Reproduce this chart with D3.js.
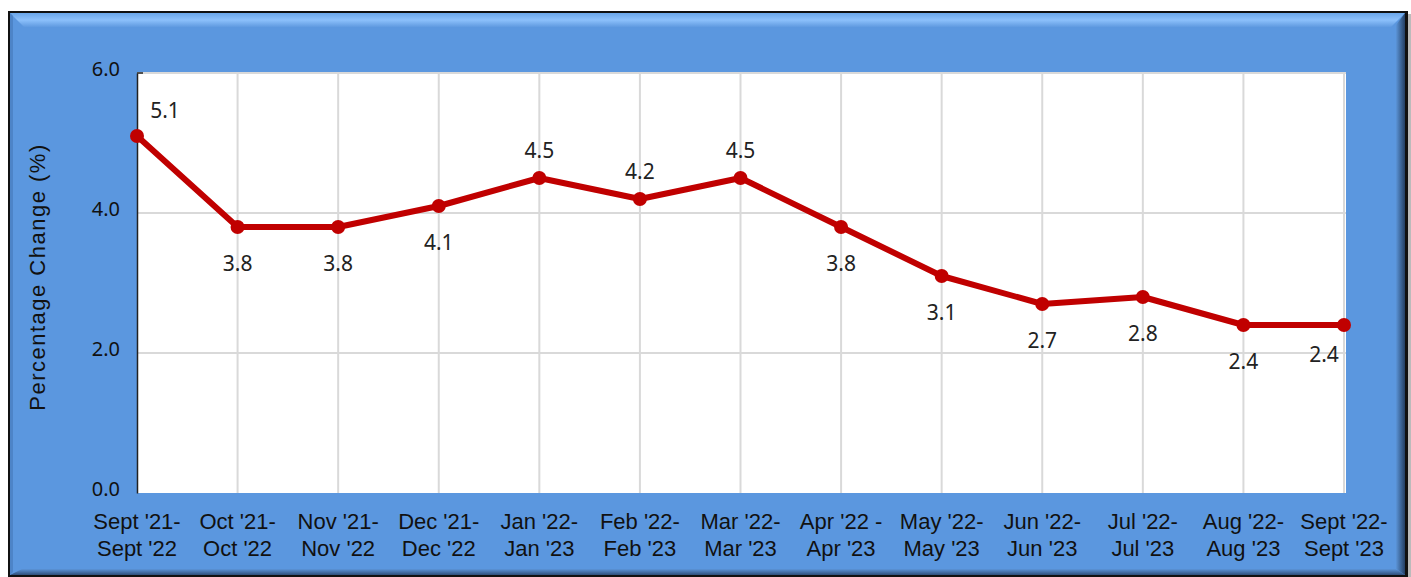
<!DOCTYPE html>
<html>
<head>
<meta charset="utf-8">
<script src="https://cdn.jsdelivr.net/npm/d3@7"></script>
<style>
  body { margin: 0; background: #fff; }
</style>
</head>
<body>
<div id="chart"></div>
<script>
// Data
const periods = [
  ["Sept '21-", "Sept '22"], ["Oct '21-", "Oct '22"], ["Nov '21-", "Nov '22"],
  ["Dec '21-", "Dec '22"], ["Jan '22-", "Jan '23"], ["Feb '22-", "Feb '23"],
  ["Mar '22-", "Mar '23"], ["Apr '22 -", "Apr '23"], ["May '22-", "May '23"],
  ["Jun '22-", "Jun '23"], ["Jul '22-", "Jul '23"], ["Aug '22-", "Aug '23"],
  ["Sept '22-", "Sept '23"]
];
const values = [5.1, 3.8, 3.8, 4.1, 4.5, 4.2, 4.5, 3.8, 3.1, 2.7, 2.8, 2.4, 2.4];
const labelSide = ["aboveRight", "below", "below", "below", "above", "above", "above",
                   "below", "below", "below", "below", "below", "belowLeft"];
const yTicks = [0, 2, 4, 6];

const width = 1411, height = 577;
const plot = { left: 137, right: 1346, top: 73, bottom: 493 };

const svg = d3.select("#chart").append("svg")
    .attr("width", width)
    .attr("height", height)
    .style("font-family", "'Liberation Sans', Arial, sans-serif");

const defs = svg.append("defs");

// Bevel gradients for the frame
const topGrad = defs.append("linearGradient").attr("id", "bevel-top")
    .attr("x1", 0).attr("y1", 0).attr("x2", 0).attr("y2", 1);
topGrad.append("stop").attr("offset", "0%").attr("stop-color", "#6aa6ea");
topGrad.append("stop").attr("offset", "50%").attr("stop-color", "#8cc0fb");
topGrad.append("stop").attr("offset", "100%").attr("stop-color", "#5f9ae0");

const rightGrad = defs.append("linearGradient").attr("id", "bevel-right")
    .attr("x1", 0).attr("y1", 0).attr("x2", 1).attr("y2", 0);
rightGrad.append("stop").attr("offset", "0%").attr("stop-color", "#5b94d8");
rightGrad.append("stop").attr("offset", "100%").attr("stop-color", "#243f63");

const bottomGrad = defs.append("linearGradient").attr("id", "bevel-bottom")
    .attr("x1", 0).attr("y1", 0).attr("x2", 0).attr("y2", 1);
bottomGrad.append("stop").attr("offset", "0%").attr("stop-color", "#5b94d8");
bottomGrad.append("stop").attr("offset", "100%").attr("stop-color", "#2f4f7a");

const frame = { x: 8, y: 11, w: 1400, h: 566 };

// Shadow
svg.append("rect")
    .attr("x", frame.x + 3).attr("y", frame.y + 3)
    .attr("width", frame.w).attr("height", frame.h)
    .attr("fill", "#bbb");

// Outer black border and blue fill
svg.append("rect")
    .attr("x", frame.x).attr("y", frame.y)
    .attr("width", frame.w).attr("height", frame.h)
    .attr("fill", "#111");

svg.append("rect")
    .attr("x", frame.x + 2).attr("y", frame.y + 2)
    .attr("width", frame.w - 5).attr("height", frame.h - 4)
    .attr("fill", "#5b97df");

// Bevels
const bx0 = frame.x + 2, by0 = frame.y + 2, bx1 = frame.x + frame.w - 3, by1 = frame.y + frame.h - 2;
const bev = 14;
svg.append("polygon")
    .attr("points", `${bx0},${by0} ${bx1},${by0} ${bx1 - bev},${by0 + bev} ${bx0 + bev},${by0 + bev}`)
    .attr("fill", "url(#bevel-top)");
svg.append("polygon")
    .attr("points", `${bx1},${by0} ${bx1},${by1} ${bx1 - 9},${by1 - 6} ${bx1 - 9},${by0 + 12}`)
    .attr("fill", "url(#bevel-right)");
svg.append("polygon")
    .attr("points", `${bx0},${by1} ${bx1},${by1} ${bx1 - 9},${by1 - 6} ${bx0 + 12},${by1 - 6}`)
    .attr("fill", "url(#bevel-bottom)");
svg.append("polygon")
    .attr("points", `${bx0},${by0} ${bx0 + 3},${by0 + 3} ${bx0 + 3},${by1 - 3} ${bx0},${by1}`)
    .attr("fill", "#4d84c8");

// Scales
const x = d3.scalePoint()
    .domain(d3.range(values.length))
    .range([plot.left, plot.right - 2])
    .padding(0);

const y = d3.scaleLinear()
    .domain([0, 6])
    .range([plot.bottom, plot.top]);

// Plot area
svg.append("rect")
    .attr("x", plot.left).attr("y", plot.top)
    .attr("width", plot.right - plot.left).attr("height", plot.bottom - plot.top)
    .attr("fill", "#fff");

// Gridlines
svg.append("g")
    .selectAll("line")
    .data(yTicks.filter(d => d > 0))
    .join("line")
    .attr("x1", plot.left).attr("x2", plot.right)
    .attr("y1", d => y(d)).attr("y2", d => y(d))
    .attr("stroke", "#d9d9d9")
    .attr("stroke-width", 2);

svg.append("g")
    .selectAll("line")
    .data(d3.range(1, values.length))
    .join("line")
    .attr("x1", d => x(d)).attr("x2", d => x(d))
    .attr("y1", plot.top).attr("y2", plot.bottom)
    .attr("stroke", "#d9d9d9")
    .attr("stroke-width", 2);

// Y axis
const yAxis = svg.append("g")
    .attr("transform", `translate(${plot.left},0)`)
    .call(d3.axisLeft(y).tickValues(yTicks).tickSize(0).tickPadding(17).tickFormat(d3.format(".1f")));
yAxis.select(".domain").attr("stroke", "#222").attr("stroke-width", 1.5);
yAxis.selectAll("text")
    .attr("font-size", 20)
    .attr("fill", "#111")
    .attr("font-family", "'Noto Sans', sans-serif")
    .attr("dy", "0.1em");

// small tick at top
svg.append("line")
    .attr("x1", plot.left).attr("x2", plot.left + 6)
    .attr("y1", plot.top).attr("y2", plot.top)
    .attr("stroke", "#222").attr("stroke-width", 1.5);

// X labels
const xLab = svg.append("g")
    .selectAll("text")
    .data(periods)
    .join("text")
    .attr("text-anchor", "middle")
    .attr("font-size", 22)
    .attr("fill", "#111")
    .attr("x", (d, i) => x(i));
xLab.append("tspan").attr("y", 529).text(d => d[0]);
xLab.append("tspan").attr("x", (d, i) => x(i)).attr("y", 556).text(d => d[1]);

// Y axis title
svg.append("text")
    .attr("transform", `translate(45, ${(plot.top + plot.bottom) / 2 - 6}) rotate(-90)`)
    .attr("text-anchor", "middle")
    .attr("font-size", 22)
    .attr("letter-spacing", 1.5)
    .attr("fill", "#111")
    .text("Percentage Change (%)");

// Line
const line = d3.line()
    .x((d, i) => x(i))
    .y(d => y(d));

svg.append("path")
    .datum(values)
    .attr("d", line)
    .attr("fill", "none")
    .attr("stroke", "#c00000")
    .attr("stroke-width", 6)
    .attr("stroke-linejoin", "round");

svg.append("g")
    .selectAll("circle")
    .data(values)
    .join("circle")
    .attr("cx", (d, i) => x(i))
    .attr("cy", d => y(d))
    .attr("r", 7)
    .attr("fill", "#c00000");

// Data labels
const offsets = {
  above: [0, -20],
  aboveRight: [28, -18],
  below: [0, 44],
  belowLeft: [-20, 37]
};
svg.append("g")
    .selectAll("text")
    .data(values)
    .join("text")
    .attr("x", (d, i) => x(i) + offsets[labelSide[i]][0])
    .attr("y", (d, i) => y(d) + offsets[labelSide[i]][1])
    .attr("text-anchor", "middle")
    .attr("font-family", "'Noto Sans', sans-serif")
    .attr("font-size", 21)
    .attr("fill", "#222")
    .text(d => d.toFixed(1));
</script>
</body>
</html>
